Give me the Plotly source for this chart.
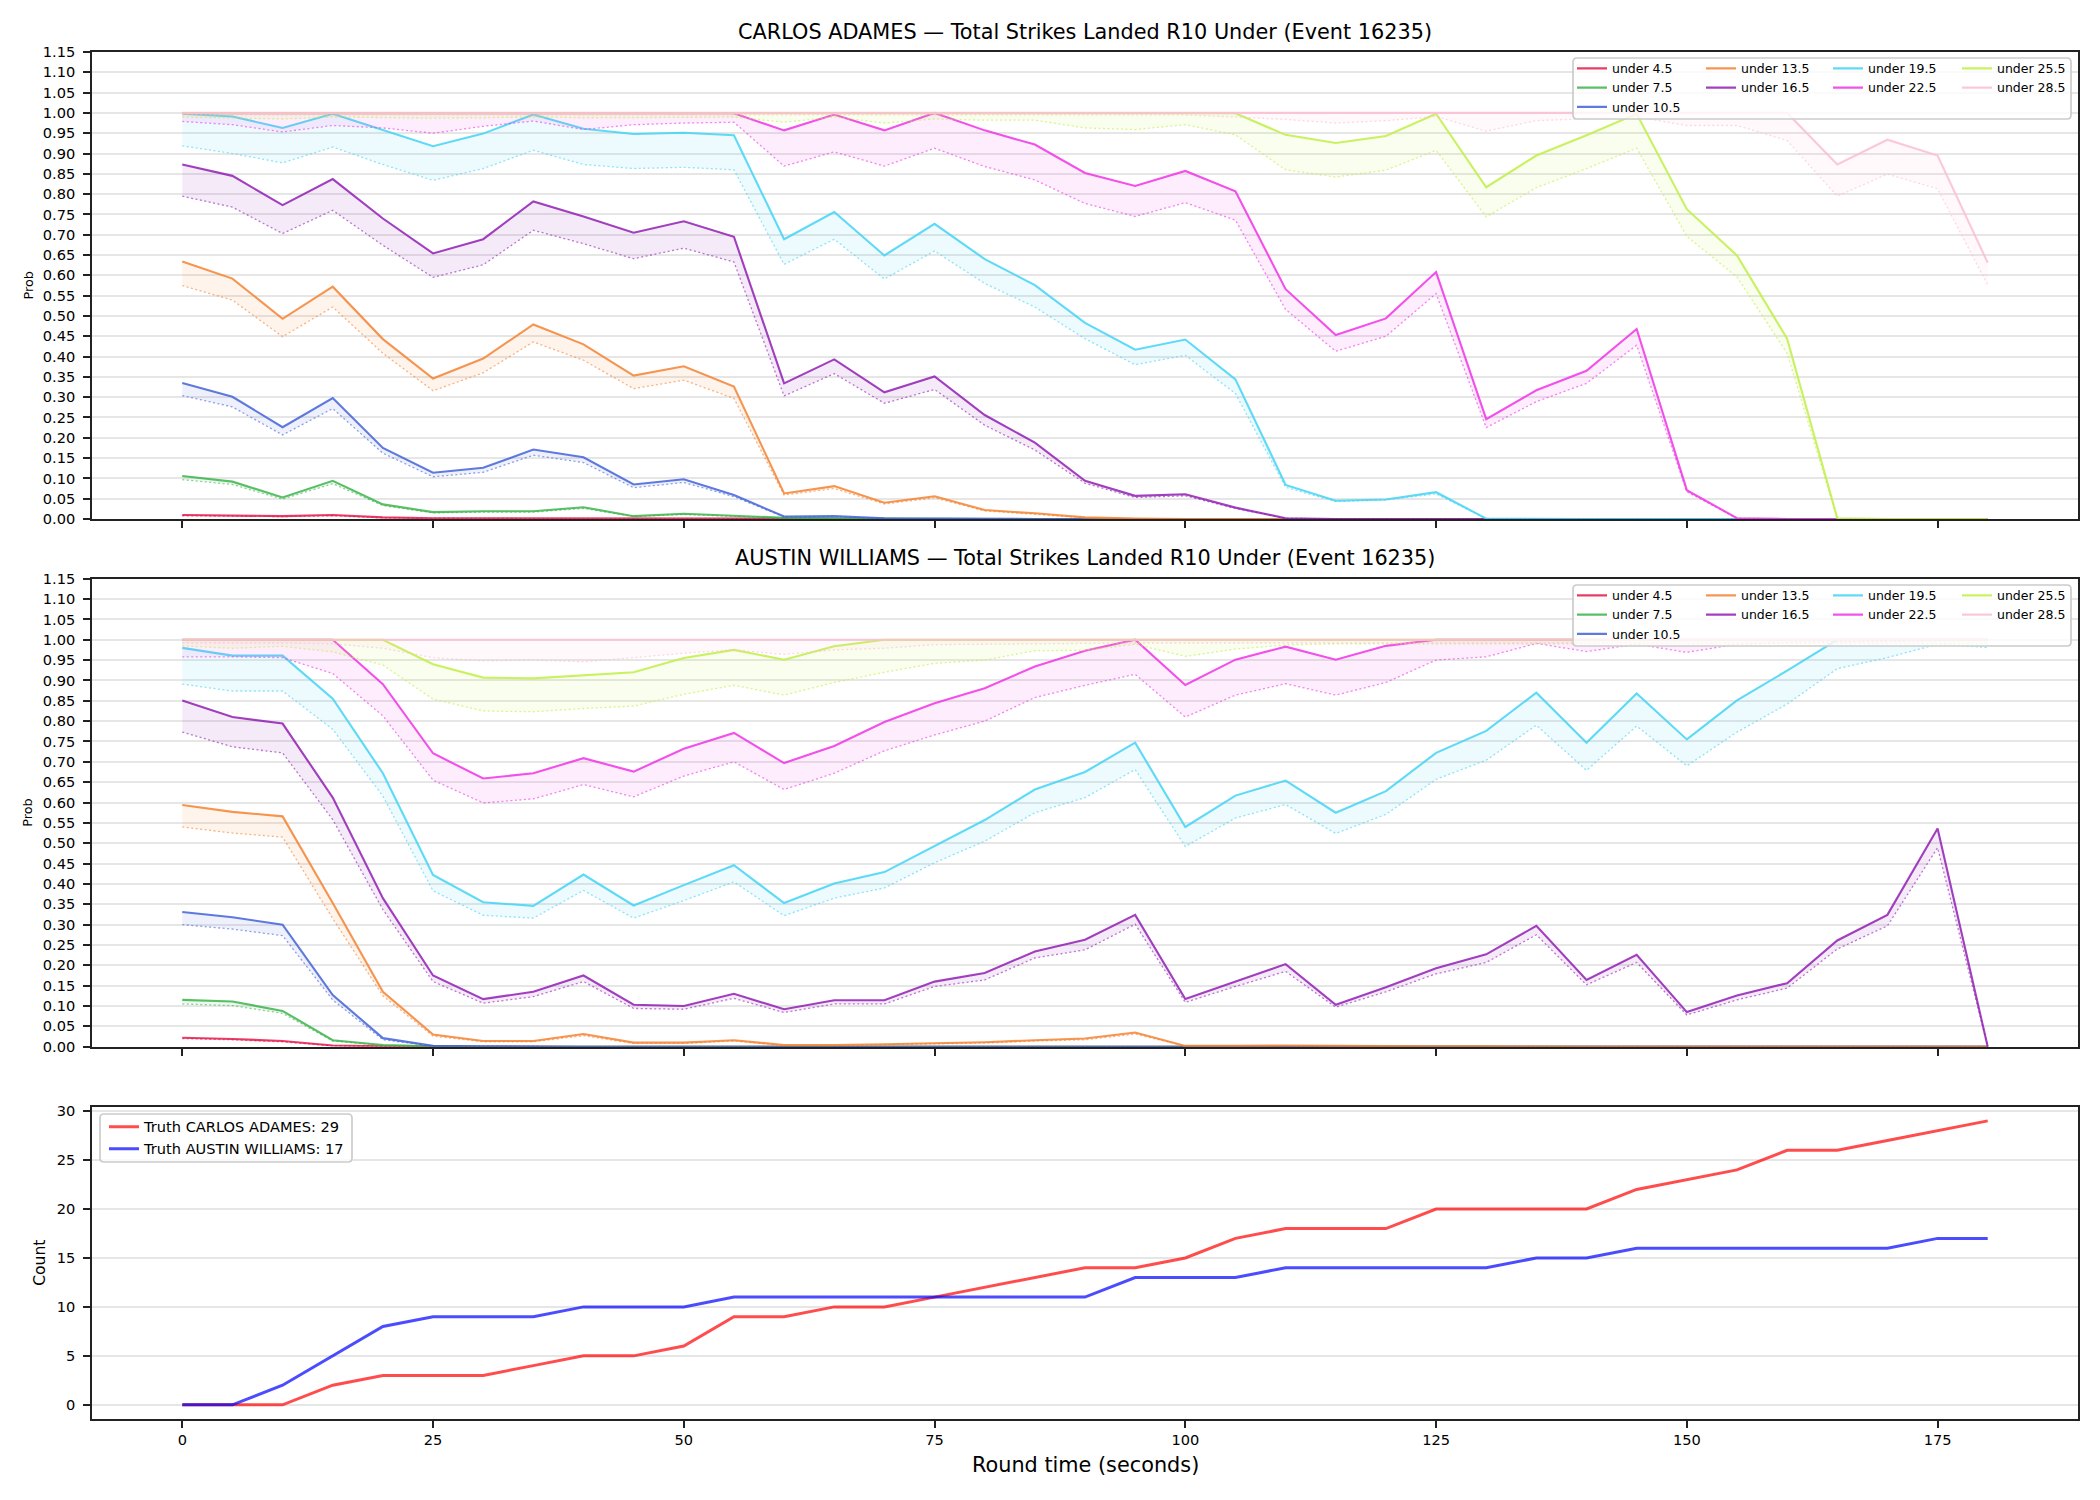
import plotly.graph_objects as go

FONT = "DejaVu Sans"

# ---------------- data ----------------
times = [0, 5, 10, 15, 20, 25, 30, 35, 40, 45, 50, 55, 60, 65, 70, 75, 80, 85, 90,
         95, 100, 105, 110, 115, 120, 125, 130, 135, 140, 145, 150, 155, 160, 165, 170, 175, 180]

thresholds = ["4.5", "7.5", "10.5", "13.5", "16.5", "19.5", "22.5", "25.5", "28.5"]
colors = ["#e6194B", "#3cb44b", "#4363d8", "#f58231", "#911eb4",
          "#42d4f4", "#f032e6", "#bfef45", "#fabed4"]
x_ticks = [0, 25, 50, 75, 100, 125, 150, 175]

# CARLOS ADAMES: solid (prob) and dotted (lower) lines
adames_u45 = [0.010, 0.008, 0.007, 0.010, 0.004, 0.002, 0.002, 0.002, 0.002, 0.001, 0.001, 0.001, 0.001,
              0, 0, 0, 0, 0, 0, 0, 0, 0, 0, 0, 0, 0, 0, 0, 0, 0, 0, 0, 0, 0, 0, 0, 0]
adames_u45_lo = [0.008, 0.007, 0.006, 0.008, 0.003, 0.002, 0.001, 0.001, 0.001, 0.001, 0.001, 0.001,
                 0, 0, 0, 0, 0, 0, 0, 0, 0, 0, 0, 0, 0, 0, 0, 0, 0, 0, 0, 0, 0, 0, 0, 0, 0]
adames_u75 = [0.106, 0.092, 0.053, 0.094, 0.036, 0.017, 0.019, 0.019, 0.029, 0.007, 0.013, 0.008, 0.003,
              0.002, 0.001, 0.001, 0, 0, 0, 0, 0, 0, 0, 0, 0, 0, 0, 0, 0, 0, 0, 0, 0, 0, 0, 0, 0]
adames_u75_lo = [0.097, 0.085, 0.049, 0.087, 0.033, 0.015, 0.017, 0.017, 0.026, 0.006, 0.011, 0.007, 0.002,
                 0.002, 0.001, 0.001, 0, 0, 0, 0, 0, 0, 0, 0, 0, 0, 0, 0, 0, 0, 0, 0, 0, 0, 0, 0, 0]
adames_u105 = [0.335, 0.301, 0.226, 0.298, 0.175, 0.114, 0.126, 0.171, 0.152, 0.085, 0.098, 0.059, 0.006,
               0.007, 0.002, 0.001, 0.001, 0, 0, 0, 0, 0, 0, 0, 0, 0, 0, 0, 0, 0, 0, 0, 0, 0, 0, 0, 0]
adames_u105_lo = [0.304, 0.276, 0.207, 0.272, 0.162, 0.104, 0.115, 0.157, 0.139, 0.077, 0.090, 0.055, 0.005,
                  0.006, 0.001, 0.001, 0, 0, 0, 0, 0, 0, 0, 0, 0, 0, 0, 0, 0, 0, 0, 0, 0, 0, 0, 0, 0]
adames_u135 = [0.634, 0.592, 0.493, 0.572, 0.443, 0.346, 0.395, 0.479, 0.430, 0.353, 0.376, 0.326, 0.063,
               0.081, 0.040, 0.056, 0.022, 0.014, 0.004, 0.001, 0, 0, 0, 0, 0, 0, 0, 0, 0, 0, 0, 0, 0, 0, 0, 0, 0]
adames_u135_lo = [0.575, 0.539, 0.449, 0.522, 0.408, 0.316, 0.360, 0.436, 0.391, 0.321, 0.342, 0.297, 0.059,
                  0.075, 0.037, 0.052, 0.020, 0.012, 0.003, 0.001, 0, 0, 0, 0, 0, 0, 0, 0, 0, 0, 0, 0, 0, 0, 0, 0, 0]
adames_u165 = [0.873, 0.845, 0.773, 0.837, 0.740, 0.654, 0.689, 0.782, 0.745, 0.705, 0.733, 0.695, 0.334,
               0.393, 0.312, 0.351, 0.256, 0.188, 0.094, 0.057, 0.061, 0.028, 0.002,
               0, 0, 0, 0, 0, 0, 0, 0, 0, 0, 0, 0, 0, 0]
adames_u165_lo = [0.795, 0.768, 0.703, 0.760, 0.674, 0.595, 0.626, 0.711, 0.678, 0.641, 0.667, 0.633, 0.303,
                  0.358, 0.285, 0.319, 0.231, 0.170, 0.088, 0.053, 0.057, 0.026, 0.002,
                  0, 0, 0, 0, 0, 0, 0, 0, 0, 0, 0, 0, 0, 0]
adames_u195 = [0.998, 0.991, 0.963, 0.998, 0.958, 0.918, 0.949, 0.996, 0.961, 0.948, 0.951, 0.945, 0.689,
               0.756, 0.649, 0.727, 0.640, 0.576, 0.483, 0.417, 0.442, 0.344, 0.084, 0.045, 0.048, 0.066,
               0.001, 0, 0, 0, 0, 0, 0, 0, 0, 0, 0]
adames_u195_lo = [0.919, 0.900, 0.877, 0.916, 0.873, 0.834, 0.863, 0.908, 0.873, 0.863, 0.866, 0.860, 0.627,
                  0.689, 0.591, 0.660, 0.580, 0.522, 0.444, 0.380, 0.403, 0.309, 0.078, 0.043, 0.047, 0.062,
                  0.001, 0, 0, 0, 0, 0, 0, 0, 0, 0, 0]
adames_u225 = [0.999, 0.999, 0.999, 0.999, 0.999, 0.999, 0.999, 0.999, 0.999, 0.999, 0.999, 0.999,
               0.957, 0.996, 0.957, 1.000, 0.957, 0.922, 0.852, 0.820, 0.857, 0.807, 0.566, 0.453, 0.494,
               0.608, 0.246, 0.317, 0.365, 0.468, 0.071, 0.002, 0, 0, 0, 0, 0]
adames_u225_lo = [0.979, 0.971, 0.953, 0.969, 0.963, 0.950, 0.967, 0.980, 0.959, 0.971, 0.975, 0.977,
                  0.869, 0.904, 0.869, 0.913, 0.868, 0.835, 0.777, 0.745, 0.779, 0.736, 0.516, 0.413, 0.450,
                  0.555, 0.225, 0.289, 0.334, 0.428, 0.067, 0.002, 0, 0, 0, 0, 0]
adames_u255 = [0.999, 0.999, 0.999, 0.999, 0.999, 0.999, 0.999, 0.999, 0.999, 0.999, 0.999, 0.999,
               0.999, 0.999, 0.999, 0.999, 0.999, 0.999, 0.999, 0.999, 0.999, 0.999,
               0.946, 0.926, 0.943, 0.998, 0.817, 0.895, 0.945, 0.998, 0.763, 0.649, 0.444, 0.002, 0, 0, 0]
adames_u255_lo = [0.990, 0.988, 0.985, 0.990, 0.988, 0.987, 0.988, 0.990, 0.988, 0.988, 0.989, 0.990,
                  0.977, 0.990, 0.975, 0.985, 0.982, 0.982, 0.963, 0.959, 0.971, 0.946,
                  0.860, 0.842, 0.859, 0.908, 0.744, 0.816, 0.863, 0.913, 0.696, 0.596, 0.408, 0.001, 0, 0, 0]
adames_u285 = [1.000, 1.000, 1.000, 1.000, 1.000, 1.000, 1.000, 1.000, 1.000, 1.000, 1.000, 1.000,
               1.000, 1.000, 1.000, 1.000, 1.000, 1.000, 1.000, 1.000, 1.000, 1.000, 1.000, 1.000,
               1.000, 1.000, 1.000, 1.000, 1.000, 1.000, 1.000, 1.000, 1.000, 0.873, 0.934, 0.895, 0.631]
adames_u285_lo = [0.995, 0.995, 0.995, 0.995, 0.995, 0.995, 0.995, 0.995, 0.995, 0.995, 0.995, 0.995,
                  0.995, 0.995, 0.995, 0.995, 0.995, 0.995, 0.995, 0.995, 0.995,
                  0.990, 0.984, 0.975, 0.981, 0.991, 0.955, 0.981, 0.986, 0.990, 0.969, 0.969, 0.932,
                  0.795, 0.849, 0.813, 0.576]

# AUSTIN WILLIAMS: solid (prob) and dotted (lower) lines
williams_u45 = [0.022, 0.019, 0.014, 0.003, 0.001, 0, 0, 0, 0, 0, 0, 0, 0, 0, 0, 0, 0, 0, 0,
                0, 0, 0, 0, 0, 0, 0, 0, 0, 0, 0, 0, 0, 0, 0, 0, 0, 0]
williams_u45_lo = [0.020, 0.017, 0.012, 0.002, 0.001, 0, 0, 0, 0, 0, 0, 0, 0, 0, 0, 0, 0, 0, 0,
                   0, 0, 0, 0, 0, 0, 0, 0, 0, 0, 0, 0, 0, 0, 0, 0, 0, 0]
williams_u75 = [0.115, 0.111, 0.088, 0.016, 0.004, 0.001, 0, 0, 0, 0, 0, 0, 0, 0, 0, 0, 0, 0, 0,
                0, 0, 0, 0, 0, 0, 0, 0, 0, 0, 0, 0, 0, 0, 0, 0, 0, 0]
williams_u75_lo = [0.105, 0.101, 0.082, 0.014, 0.003, 0.001, 0, 0, 0, 0, 0, 0, 0, 0, 0, 0, 0, 0, 0,
                   0, 0, 0, 0, 0, 0, 0, 0, 0, 0, 0, 0, 0, 0, 0, 0, 0, 0]
williams_u105 = [0.331, 0.318, 0.300, 0.127, 0.021, 0.002, 0.001, 0, 0, 0, 0, 0, 0, 0, 0, 0, 0, 0, 0,
                 0, 0, 0, 0, 0, 0, 0, 0, 0, 0, 0, 0, 0, 0, 0, 0, 0, 0]
williams_u105_lo = [0.300, 0.289, 0.273, 0.115, 0.017, 0.002, 0.001, 0, 0, 0, 0, 0, 0, 0, 0, 0, 0, 0, 0,
                    0, 0, 0, 0, 0, 0, 0, 0, 0, 0, 0, 0, 0, 0, 0, 0, 0, 0]
williams_u135 = [0.594, 0.577, 0.566, 0.353, 0.135, 0.030, 0.014, 0.014, 0.031, 0.010, 0.010, 0.016, 0.004,
                 0.004, 0.006, 0.008, 0.011, 0.016, 0.020, 0.035, 0.002, 0.002, 0.003, 0.002, 0.001, 0.001,
                 0.001, 0, 0, 0, 0, 0, 0, 0, 0, 0, 0]
williams_u135_lo = [0.540, 0.525, 0.515, 0.315, 0.125, 0.026, 0.012, 0.012, 0.027, 0.008, 0.008, 0.014, 0.003,
                    0.003, 0.005, 0.007, 0.009, 0.014, 0.017, 0.031, 0.002, 0.002, 0.002, 0.002, 0.001, 0.001,
                    0.001, 0, 0, 0, 0, 0, 0, 0, 0, 0, 0]
williams_u165 = [0.851, 0.810, 0.794, 0.612, 0.365, 0.175, 0.117, 0.135, 0.175, 0.103, 0.100, 0.130, 0.092,
                 0.114, 0.114, 0.160, 0.181, 0.234, 0.263, 0.324, 0.117, 0.160, 0.203, 0.103, 0.146, 0.193,
                 0.227, 0.297, 0.164, 0.226, 0.085, 0.126, 0.156, 0.261, 0.324, 0.536, 0.000]
williams_u165_lo = [0.773, 0.737, 0.722, 0.558, 0.337, 0.160, 0.107, 0.123, 0.160, 0.094, 0.092, 0.119, 0.084,
                    0.105, 0.105, 0.148, 0.164, 0.218, 0.238, 0.301, 0.109, 0.148, 0.185, 0.097, 0.135, 0.179,
                    0.207, 0.275, 0.152, 0.207, 0.078, 0.115, 0.144, 0.240, 0.297, 0.489, 0.000]
williams_u195 = [0.980, 0.961, 0.961, 0.855, 0.672, 0.422, 0.355, 0.346, 0.423, 0.347, 0.397, 0.446, 0.353,
                 0.401, 0.429, 0.494, 0.557, 0.632, 0.675, 0.747, 0.540, 0.617, 0.654, 0.575, 0.628, 0.722,
                 0.776, 0.870, 0.747, 0.868, 0.755, 0.851, 0.924, 1.000, 1.000, 1.000, 1.000]
williams_u195_lo = [0.891, 0.874, 0.874, 0.780, 0.616, 0.383, 0.323, 0.316, 0.384, 0.316, 0.359, 0.405, 0.322,
                    0.365, 0.390, 0.452, 0.505, 0.575, 0.612, 0.681, 0.492, 0.562, 0.595, 0.524, 0.571, 0.657,
                    0.704, 0.790, 0.679, 0.788, 0.690, 0.773, 0.842, 0.929, 0.956, 0.989, 0.981]
williams_u225 = [1.000, 1.000, 1.000, 1.000, 0.891, 0.721, 0.659, 0.672, 0.709, 0.676, 0.732, 0.771, 0.697,
                 0.739, 0.798, 0.844, 0.881, 0.934, 0.973, 1.000, 0.889, 0.951, 0.983, 0.951, 0.985, 1.000,
                 1.000, 1.000, 1.000, 1.000, 1.000, 1.000, 1.000, 1.000, 1.000, 1.000, 1.000]
williams_u225_lo = [0.958, 0.958, 0.956, 0.917, 0.813, 0.655, 0.599, 0.609, 0.644, 0.614, 0.665, 0.700, 0.632,
                    0.672, 0.727, 0.766, 0.800, 0.858, 0.888, 0.915, 0.810, 0.864, 0.892, 0.864, 0.895, 0.950,
                    0.958, 0.991, 0.971, 0.989, 0.969, 0.989, 0.993, 0.995, 0.997, 0.998, 0.999]
williams_u255 = [1.000, 1.000, 1.000, 1.000, 1.000, 0.940, 0.907, 0.905, 0.913, 0.920, 0.955, 0.975, 0.951,
                 0.984, 1.000, 1.000, 1.000, 1.000, 1.000, 1.000, 1.000, 1.000, 1.000, 1.000, 1.000, 1.000,
                 1.000, 1.000, 1.000, 1.000, 1.000, 1.000, 1.000, 1.000, 1.000, 1.000, 1.000]
williams_u255_lo = [0.985, 0.979, 0.984, 0.970, 0.938, 0.854, 0.825, 0.823, 0.831, 0.837, 0.866, 0.888, 0.864,
                    0.895, 0.920, 0.942, 0.950, 0.973, 0.974, 0.989, 0.959, 0.977, 0.987, 0.990, 0.990, 0.990,
                    0.990, 0.990, 0.990, 0.990, 0.990, 0.990, 0.990, 0.990, 0.990, 0.990, 0.990]
williams_u285 = [1.000, 1.000, 1.000, 1.000, 1.000, 1.000, 1.000, 1.000, 1.000, 1.000, 1.000, 1.000, 1.000,
                 1.000, 1.000, 1.000, 1.000, 1.000, 1.000, 1.000, 1.000, 1.000, 1.000, 1.000, 1.000, 1.000,
                 1.000, 1.000, 1.000, 1.000, 1.000, 1.000, 1.000, 1.000, 1.000, 1.000, 1.000]
williams_u285_lo = [0.992, 0.992, 0.992, 0.990, 0.979, 0.956, 0.948, 0.950, 0.946, 0.956, 0.967, 0.975, 0.964,
                    0.975, 0.979, 0.988, 0.989, 0.991, 0.992, 0.992, 0.992, 0.992, 0.992, 0.992, 0.992, 0.992,
                    0.992, 0.992, 0.992, 0.992, 0.992, 0.992, 0.992, 0.992, 0.992, 0.992, 0.992]

# Truth counts
truth_adames = [0, 0, 0, 2, 3, 3, 3, 4, 5, 5, 6, 9, 9, 10, 10, 11, 12, 13, 14, 14, 15, 17, 18, 18, 18,
                20, 20, 20, 20, 22, 23, 24, 26, 26, 27, 28, 29]
truth_williams = [0, 0, 2, 5, 8, 9, 9, 9, 10, 10, 10, 11, 11, 11, 11, 11, 11, 11, 11, 13, 13, 13, 14, 14, 14,
                  14, 14, 15, 15, 16, 16, 16, 16, 16, 16, 17, 17]

adames_main = [adames_u45, adames_u75, adames_u105, adames_u135, adames_u165,
               adames_u195, adames_u225, adames_u255, adames_u285]
adames_low = [adames_u45_lo, adames_u75_lo, adames_u105_lo, adames_u135_lo, adames_u165_lo,
              adames_u195_lo, adames_u225_lo, adames_u255_lo, adames_u285_lo]
williams_main = [williams_u45, williams_u75, williams_u105, williams_u135, williams_u165,
                 williams_u195, williams_u225, williams_u255, williams_u285]
williams_low = [williams_u45_lo, williams_u75_lo, williams_u105_lo, williams_u135_lo, williams_u165_lo,
                williams_u195_lo, williams_u225_lo, williams_u255_lo, williams_u285_lo]

# ---------------- geometry helpers (pixels -> paper) ----------------
W, H = 2100, 1500
PL, PR, PT, PB = 92, 2078, 52, 1419


def px_x(px):
    return (px - PL) / (PR - PL)


def px_y(py):
    return (PB - py) / (PB - PT)


def rgba(hexc, a):
    h = hexc.lstrip("#")
    r, g, b = int(h[0:2], 16), int(h[2:4], 16), int(h[4:6], 16)
    return f"rgba({r},{g},{b},{a})"


def rounded_path(x0, y0, x1, y1, r=4):
    def P(x, y):
        return f"{px_x(x):.6f},{px_y(y):.6f}"
    return (f"M{P(x0 + r, y0)} L{P(x1 - r, y0)} Q{P(x1, y0)} {P(x1, y0 + r)} "
            f"L{P(x1, y1 - r)} Q{P(x1, y1)} {P(x1 - r, y1)} L{P(x0 + r, y1)} "
            f"Q{P(x0, y1)} {P(x0, y1 - r)} L{P(x0, y0 + r)} Q{P(x0, y0)} {P(x0 + r, y0)} Z")


dom_top = [px_y(519), 1.0]
dom_mid = [px_y(1046.7), px_y(578.7)]
dom_bot = [0.0, px_y(1106.7)]

fig = go.Figure()

col_of = [0, 0, 0, 1, 1, 2, 2, 3, 3]
panels = [
    ("x", "y", ["legend", "legend2", "legend3", "legend4"], adames_main, adames_low),
    ("x2", "y2", ["legend5", "legend6", "legend7", "legend8"], williams_main, williams_low),
]

for xa, ya, legs, mains, lows in panels:
    for i, th in enumerate(thresholds):
        c = colors[i]
        fig.add_trace(go.Scatter(
            x=times, y=mains[i], mode="lines", name=f"under {th}",
            line=dict(color=rgba(c, 0.85), width=2.1),
            legend=legs[col_of[i]], xaxis=xa, yaxis=ya, hoverinfo="skip"))
        fig.add_trace(go.Scatter(
            x=times, y=lows[i], mode="lines", showlegend=False,
            line=dict(color=rgba(c, 0.6), width=1.3, dash="2px,2.5px"),
            fill="tonexty", fillcolor=rgba(c, 0.09),
            legend=legs[col_of[i]], xaxis=xa, yaxis=ya, hoverinfo="skip"))

fig.add_trace(go.Scatter(x=times, y=truth_adames, mode="lines", name="Truth CARLOS ADAMES: 29",
                         line=dict(color="rgba(255,0,0,0.7)", width=3), legend="legend9",
                         xaxis="x3", yaxis="y3"))
fig.add_trace(go.Scatter(x=times, y=truth_williams, mode="lines", name="Truth AUSTIN WILLIAMS: 17",
                         line=dict(color="rgba(0,0,255,0.7)", width=3), legend="legend9",
                         xaxis="x3", yaxis="y3"))

# ---------------- axes ----------------
prob_ticks = [0.00, 0.05, 0.10, 0.15, 0.20, 0.25, 0.30, 0.35, 0.40, 0.45, 0.50, 0.55, 0.60,
              0.65, 0.70, 0.75, 0.80, 0.85, 0.90, 0.95, 1.00, 1.05, 1.10, 1.15]
count_ticks = [0, 5, 10, 15, 20, 25, 30]

axis_common = dict(showline=True, linecolor="#222222", linewidth=1.7, mirror=True,
                   ticks="outside", ticklen=7, tickwidth=1.7, tickcolor="#222222",
                   zeroline=False, tickfont=dict(family=FONT, size=14.6, color="#000000"))

xcommon = dict(axis_common, range=[-9, 189], tickmode="array", tickvals=x_ticks,
               showgrid=False)
ycommon = dict(axis_common, showgrid=True, gridcolor="#e6e6e6", gridwidth=1.5,
               ticklabelstandoff=5)

fig.update_layout(
    xaxis=dict(xcommon, domain=[0, 1], anchor="y", showticklabels=False),
    xaxis2=dict(xcommon, domain=[0, 1], anchor="y2", showticklabels=False),
    xaxis3=dict(xcommon, domain=[0, 1], anchor="y3", showticklabels=True),
    yaxis=dict(ycommon, domain=dom_top, anchor="x", range=[0, 1.15], tickmode="array",
               tickvals=prob_ticks, ticktext=[f"{v:.2f}" for v in prob_ticks]),
    yaxis2=dict(ycommon, domain=dom_mid, anchor="x2", range=[0, 1.15], tickmode="array",
                tickvals=prob_ticks, ticktext=[f"{v:.2f}" for v in prob_ticks]),
    yaxis3=dict(ycommon, domain=dom_bot, anchor="x3", range=[-1.45, 30.45], tickmode="array",
                tickvals=count_ticks),
)

# ---------------- legends ----------------
leg_font = dict(family=FONT, size=12.5, color="#000000")
col_px = [1572, 1701, 1828, 1957]
legends = {}
for k, name in enumerate(["legend", "legend2", "legend3", "legend4"]):
    legends[name] = dict(x=px_x(col_px[k]), y=px_y(53.7), xanchor="left", yanchor="top",
                         bgcolor="rgba(0,0,0,0)", borderwidth=0, font=leg_font, traceorder="normal",
                         itemwidth=30, tracegroupgap=0, orientation="v")
for k, name in enumerate(["legend5", "legend6", "legend7", "legend8"]):
    legends[name] = dict(x=px_x(col_px[k]), y=px_y(580.7), xanchor="left", yanchor="top",
                         bgcolor="rgba(0,0,0,0)", borderwidth=0, font=leg_font, traceorder="normal",
                         itemwidth=30, tracegroupgap=0, orientation="v")
legends["legend9"] = dict(x=px_x(104), y=px_y(1110.7), xanchor="left", yanchor="top",
                          bgcolor="rgba(0,0,0,0)", borderwidth=0, traceorder="normal",
                          font=dict(family=FONT, size=14.6, color="#000000"),
                          itemwidth=30, tracegroupgap=0, orientation="v")
fig.update_layout(**legends)

frame = dict(type="path", xref="paper", yref="paper", layer="above",
             line=dict(color="#cccccc", width=1.7), fillcolor="rgba(255,255,255,0.8)")
shapes = [
    dict(frame, path=rounded_path(1573, 58, 2071, 119)),
    dict(frame, path=rounded_path(1573, 585, 2071, 646)),
    dict(frame, path=rounded_path(100, 1114, 352, 1162)),
]

# ---------------- titles / labels ----------------
annotations = [
    dict(text="CARLOS ADAMES — Total Strikes Landed R10 Under (Event 16235)", xref="paper", yref="paper",
         x=0.5, y=dom_top[1], xanchor="center", yanchor="middle", yshift=20, showarrow=False,
         font=dict(family=FONT, size=20.8, color="#000000")),
    dict(text="AUSTIN WILLIAMS — Total Strikes Landed R10 Under (Event 16235)", xref="paper", yref="paper",
         x=0.5, y=dom_mid[1], xanchor="center", yanchor="middle", yshift=20.5, showarrow=False,
         font=dict(family=FONT, size=20.8, color="#000000")),
    dict(text="Prob", xref="paper", yref="paper", x=px_x(28), y=(dom_top[0] + dom_top[1]) / 2,
         xanchor="center", yanchor="middle", textangle=-90, showarrow=False,
         font=dict(family=FONT, size=12.8, color="#000000")),
    dict(text="Prob", xref="paper", yref="paper", x=px_x(28), y=(dom_mid[0] + dom_mid[1]) / 2,
         xanchor="center", yanchor="middle", textangle=-90, showarrow=False,
         font=dict(family=FONT, size=12.8, color="#000000")),
    dict(text="Count", xref="paper", yref="paper", x=px_x(40), y=(dom_bot[0] + dom_bot[1]) / 2,
         xanchor="center", yanchor="middle", textangle=-90, showarrow=False,
         font=dict(family=FONT, size=15.6, color="#000000")),
    dict(text="Round time (seconds)", xref="paper", yref="paper", x=0.5, y=0,
         xanchor="center", yanchor="middle", yshift=-46, showarrow=False,
         font=dict(family=FONT, size=20.8, color="#000000")),
]

fig.update_layout(
    width=W, height=H,
    margin=dict(l=PL, r=W - PR, t=PT, b=H - PB, pad=0),
    paper_bgcolor="white", plot_bgcolor="white",
    font=dict(family=FONT, color="#000000"),
    shapes=shapes, annotations=annotations,
    hovermode=False,
)

fig.write_html("out.html")
